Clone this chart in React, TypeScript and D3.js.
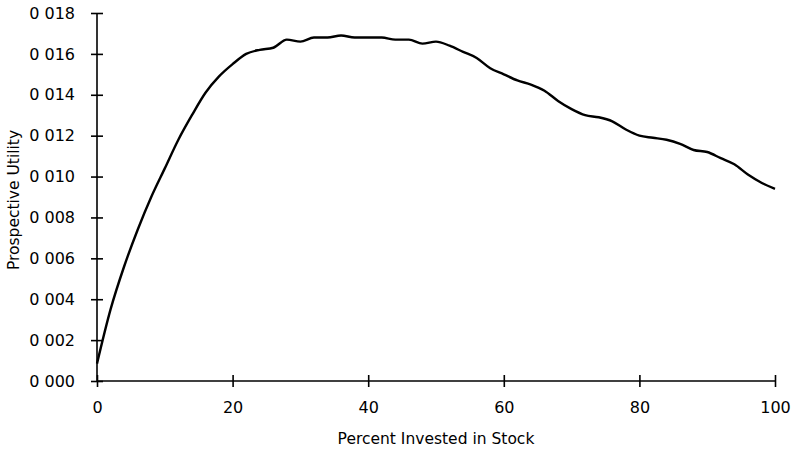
import React, { useRef, useEffect } from 'react';
import { select, scaleLinear, axisBottom, axisLeft, line, curveMonotoneX, format } from 'd3';

// percent invested in stock (every 2%)
const percent = [
  0, 2, 4, 6, 8, 10, 12, 14, 16, 18, 20, 22, 24, 26, 28, 30, 32, 34, 36, 38, 40,
  42, 44, 46, 48, 50, 52, 54, 56, 58, 60, 62, 64, 66, 68, 70, 72, 74, 76, 78, 80,
  82, 84, 86, 88, 90, 92, 94, 96, 98, 100,
];
// prospective utility
const utility = [
  0.00085, 0.0035, 0.0056, 0.0074, 0.009, 0.0104, 0.0118, 0.013, 0.0141, 0.0149,
  0.0155, 0.016, 0.0162, 0.0163, 0.0167, 0.0166, 0.0168, 0.0168, 0.0169, 0.0168,
  0.0168, 0.0168, 0.0167, 0.0167, 0.0165, 0.0166, 0.0164, 0.0161, 0.0158, 0.0153,
  0.015, 0.0147, 0.0145, 0.0142, 0.0137, 0.0133, 0.013, 0.0129, 0.0127, 0.0123,
  0.012, 0.0119, 0.0118, 0.0116, 0.0113, 0.0112, 0.0109, 0.0106, 0.0101, 0.0097,
  0.0094,
];
const xTicks = [0, 20, 40, 60, 80, 100];
const yTicks = [0, 0.002, 0.004, 0.006, 0.008, 0.01, 0.012, 0.014, 0.016, 0.018];

const W = 794;
const H = 449;
const FONT = '"DejaVu Sans", Verdana, sans-serif';

export default function App() {
  const svgRef = useRef<SVGSVGElement>(null);

  useEffect(() => {
    const svg = select(svgRef.current);
    svg.selectAll('*').remove();

    const x = scaleLinear().domain([0, 100]).range([97, 775]);
    const y = scaleLinear().domain([0, 0.018]).range([381, 13]);

    const fmt3 = format('.3f');
    const yAxis = axisLeft<number>(y)
      .tickValues(yTicks)
      .tickSize(6)
      .tickPadding(16)
      .tickFormat(d => '0 ' + fmt3(d).slice(2));
    const gy = svg.append('g').attr('transform', 'translate(97,0)').call(yAxis);
    gy.select('.domain').attr('d', `M0,${y(0.018)}V${y(0)}`);
    gy.selectAll('.tick line').attr('x1', -6).attr('x2', 6);

    const xAxis = axisBottom<number>(x).tickValues(xTicks).tickSize(6).tickPadding(15);
    const gx = svg.append('g').attr('transform', 'translate(0,381)').call(xAxis);
    gx.select('.domain').attr('d', `M${x(0)},0H${x(100)}`);
    gx.selectAll('.tick line').attr('y1', -6).attr('y2', 6);

    svg.selectAll('.domain, .tick line').attr('stroke', '#000').attr('stroke-width', 1.6);
    svg
      .selectAll('.tick text')
      .attr('fill', '#000')
      .style('font-family', FONT)
      .style('font-size', '16px');

    const path = line<number>()
      .x((_v, i) => x(percent[i]))
      .y(v => y(v))
      .curve(curveMonotoneX);
    svg
      .append('path')
      .datum(utility)
      .attr('d', path)
      .attr('fill', 'none')
      .attr('stroke', '#000')
      .attr('stroke-width', 2.4)
      .attr('stroke-linejoin', 'round');

    svg
      .append('text')
      .attr('x', 436)
      .attr('y', 444)
      .attr('text-anchor', 'middle')
      .style('font-family', FONT)
      .style('font-size', '15.5px')
      .text('Percent Invested in Stock');

    svg
      .append('text')
      .attr('transform', 'translate(19,200) rotate(-90)')
      .attr('text-anchor', 'middle')
      .style('font-family', FONT)
      .style('font-size', '15.5px')
      .text('Prospective Utility');
  }, []);

  return (
    <svg
      ref={svgRef}
      width={W}
      height={H}
      style={{ position: 'absolute', left: 0, top: 0, background: '#fff' }}
    />
  );
}
